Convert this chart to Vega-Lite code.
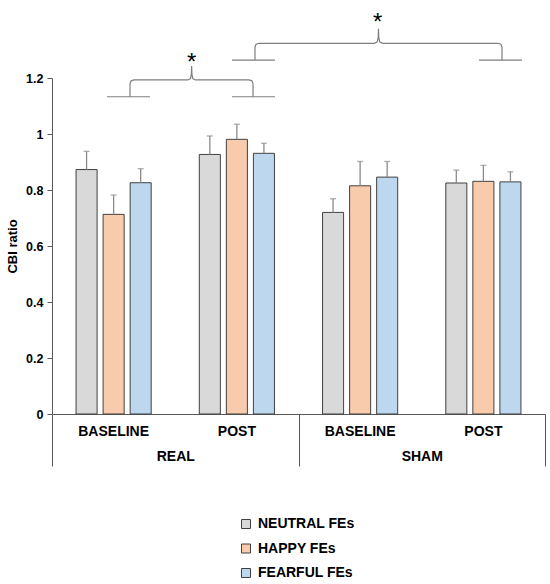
{
  "$schema": "https://vega.github.io/schema/vega-lite/v6.json",
  "width": 493,
  "height": 336,
  "autosize": {"type": "none"},
  "padding": {"left": 52, "top": 78, "right": 5, "bottom": 170},
  "config": {"font": "Liberation Sans", "view": {"stroke": null}},
  "datasets": {
    "bars": [
      {"group": "REAL", "cond": "REAL BASELINE", "emotion": "NEUTRAL FEs", "value": 0.873, "upper": 0.938},
      {"group": "REAL", "cond": "REAL BASELINE", "emotion": "HAPPY FEs", "value": 0.713, "upper": 0.782},
      {"group": "REAL", "cond": "REAL BASELINE", "emotion": "FEARFUL FEs", "value": 0.826, "upper": 0.876},
      {"group": "REAL", "cond": "REAL POST", "emotion": "NEUTRAL FEs", "value": 0.927, "upper": 0.993},
      {"group": "REAL", "cond": "REAL POST", "emotion": "HAPPY FEs", "value": 0.981, "upper": 1.035},
      {"group": "REAL", "cond": "REAL POST", "emotion": "FEARFUL FEs", "value": 0.931, "upper": 0.967},
      {"group": "SHAM", "cond": "SHAM BASELINE", "emotion": "NEUTRAL FEs", "value": 0.720, "upper": 0.769},
      {"group": "SHAM", "cond": "SHAM BASELINE", "emotion": "HAPPY FEs", "value": 0.815, "upper": 0.902},
      {"group": "SHAM", "cond": "SHAM BASELINE", "emotion": "FEARFUL FEs", "value": 0.846, "upper": 0.902},
      {"group": "SHAM", "cond": "SHAM POST", "emotion": "NEUTRAL FEs", "value": 0.825, "upper": 0.871},
      {"group": "SHAM", "cond": "SHAM POST", "emotion": "HAPPY FEs", "value": 0.831, "upper": 0.888},
      {"group": "SHAM", "cond": "SHAM POST", "emotion": "FEARFUL FEs", "value": 0.829, "upper": 0.865}
    ],
    "brackets": [
      {"seg": "a_tabL", "i": 1, "bx": 0.446, "by": 1.133},
      {"seg": "a_tabL", "i": 2, "bx": 0.795, "by": 1.133},
      {"seg": "a_tabR", "i": 1, "bx": 1.460, "by": 1.133},
      {"seg": "a_tabR", "i": 2, "bx": 1.809, "by": 1.133},
      {"seg": "a_brace", "i": 1, "bx": 0.633, "by": 1.133},
      {"seg": "a_brace", "i": 2, "bx": 0.633, "by": 1.179},
      {"seg": "a_brace", "i": 3, "bx": 0.642, "by": 1.190},
      {"seg": "a_brace", "i": 4, "bx": 0.665, "by": 1.193},
      {"seg": "a_brace", "i": 5, "bx": 1.102, "by": 1.193},
      {"seg": "a_brace", "i": 6, "bx": 1.124, "by": 1.198},
      {"seg": "a_brace", "i": 7, "bx": 1.131, "by": 1.215},
      {"seg": "a_brace", "i": 8, "bx": 1.133, "by": 1.243},
      {"seg": "a_brace", "i": 9, "bx": 1.135, "by": 1.215},
      {"seg": "a_brace", "i": 10, "bx": 1.142, "by": 1.198},
      {"seg": "a_brace", "i": 11, "bx": 1.164, "by": 1.193},
      {"seg": "a_brace", "i": 12, "bx": 1.599, "by": 1.193},
      {"seg": "a_brace", "i": 13, "bx": 1.622, "by": 1.190},
      {"seg": "a_brace", "i": 14, "bx": 1.631, "by": 1.179},
      {"seg": "a_brace", "i": 15, "bx": 1.631, "by": 1.133},
      {"seg": "b_tabL", "i": 1, "bx": 1.460, "by": 1.264},
      {"seg": "b_tabL", "i": 2, "bx": 1.809, "by": 1.264},
      {"seg": "b_tabR", "i": 1, "bx": 3.465, "by": 1.264},
      {"seg": "b_tabR", "i": 2, "bx": 3.813, "by": 1.264},
      {"seg": "b_brace", "i": 1, "bx": 1.647, "by": 1.264},
      {"seg": "b_brace", "i": 2, "bx": 1.647, "by": 1.310},
      {"seg": "b_brace", "i": 3, "bx": 1.656, "by": 1.321},
      {"seg": "b_brace", "i": 4, "bx": 1.679, "by": 1.324},
      {"seg": "b_brace", "i": 5, "bx": 2.617, "by": 1.324},
      {"seg": "b_brace", "i": 6, "bx": 2.639, "by": 1.329},
      {"seg": "b_brace", "i": 7, "bx": 2.647, "by": 1.346},
      {"seg": "b_brace", "i": 8, "bx": 2.649, "by": 1.376},
      {"seg": "b_brace", "i": 9, "bx": 2.651, "by": 1.346},
      {"seg": "b_brace", "i": 10, "bx": 2.659, "by": 1.329},
      {"seg": "b_brace", "i": 11, "bx": 2.681, "by": 1.324},
      {"seg": "b_brace", "i": 12, "bx": 3.619, "by": 1.324},
      {"seg": "b_brace", "i": 13, "bx": 3.642, "by": 1.321},
      {"seg": "b_brace", "i": 14, "bx": 3.651, "by": 1.310},
      {"seg": "b_brace", "i": 15, "bx": 3.651, "by": 1.264}
    ],
    "stars": [
      {"label": "*", "bx": 1.133, "by": 1.227},
      {"label": "*", "bx": 2.643, "by": 1.370}
    ],
    "groups": [
      {"group": "REAL"},
      {"group": "SHAM"}
    ]
  },
  "layer": [
    {
      "data": {"name": "bars"},
      "encoding": {
        "x": {
          "field": "cond", "type": "nominal",
          "sort": ["REAL BASELINE", "REAL POST", "SHAM BASELINE", "SHAM POST"],
          "scale": {"paddingInner": 0, "paddingOuter": 0},
          "axis": {
            "orient": "bottom", "title": null, "ticks": false, "labelAngle": 0,
            "labelExpr": "split(datum.label, ' ')[1]",
            "labelFontSize": 14, "labelFontWeight": "bold", "labelColor": "#000000",
            "labelPadding": 10, "domainColor": "#595959", "domainWidth": 1
          }
        },
        "xOffset": {
          "field": "emotion", "type": "nominal",
          "sort": ["NEUTRAL FEs", "HAPPY FEs", "FEARFUL FEs"],
          "scale": {"paddingInner": 0.222, "paddingOuter": 0.889}
        }
      },
      "layer": [
        {
          "mark": {"type": "bar", "stroke": "#404040", "strokeWidth": 1},
          "encoding": {
            "y": {
              "field": "value", "type": "quantitative",
              "scale": {"domain": [0, 1.2], "nice": false},
              "axis": {
                "title": "CBI ratio", "values": [0, 0.2, 0.4, 0.6, 0.8, 1, 1.2], "format": "~g",
                "grid": false, "domainColor": "#595959", "tickColor": "#595959", "tickSize": 5,
                "labelFontSize": 12.5, "labelFontWeight": "bold", "labelColor": "#000000", "labelPadding": 4,
                "titleFontSize": 13, "titleFontWeight": "bold", "titleColor": "#000000", "titlePadding": 6
              }
            },
            "color": {
              "field": "emotion", "type": "nominal",
              "scale": {
                "domain": ["NEUTRAL FEs", "HAPPY FEs", "FEARFUL FEs"],
                "range": ["#D9D9D9", "#F8CBAD", "#BDD7EE"]
              },
              "legend": {
                "orient": "none", "legendX": 187, "legendY": 439, "title": null,
                "symbolType": "square", "symbolSize": 81, "symbolStrokeColor": "#404040", "symbolStrokeWidth": 1,
                "symbolOpacity": 1,
                "labelFontSize": 14, "labelFontWeight": "bold", "labelColor": "#000000",
                "rowPadding": 10.5, "labelOffset": 5
              }
            }
          }
        },
        {
          "mark": {"type": "rule", "color": "#8C8C8C", "strokeWidth": 1.3},
          "encoding": {
            "y": {"field": "value", "type": "quantitative"},
            "y2": {"field": "upper"}
          }
        },
        {
          "mark": {"type": "tick", "color": "#8C8C8C", "size": 6, "thickness": 1.3},
          "encoding": {
            "y": {"field": "upper", "type": "quantitative"}
          }
        }
      ]
    },
    {
      "data": {"name": "groups"},
      "mark": {"type": "rule", "opacity": 0},
      "encoding": {
        "x": {
          "field": "group", "type": "nominal",
          "scale": {"paddingInner": 0, "paddingOuter": 0},
          "axis": {
            "orient": "bottom", "title": null, "domain": false, "tickBand": "extent",
            "tickSize": 52, "tickColor": "#595959", "tickWidth": 1, "labelAngle": 0,
            "labelFontSize": 14, "labelFontWeight": "bold", "labelColor": "#000000",
            "labelPadding": -17
          }
        }
      }
    },
    {
      "data": {"name": "brackets"},
      "mark": {"type": "line", "color": "#7F7F7F", "strokeWidth": 1.2},
      "encoding": {
        "x": {"field": "bx", "type": "quantitative", "scale": {"domain": [0, 4], "nice": false, "zero": false}, "axis": null},
        "y": {"field": "by", "type": "quantitative"},
        "detail": {"field": "seg"},
        "order": {"field": "i", "type": "quantitative"}
      }
    },
    {
      "data": {"name": "stars"},
      "mark": {"type": "text", "fontSize": 24, "color": "#000000", "baseline": "alphabetic", "align": "center"},
      "encoding": {
        "x": {"field": "bx", "type": "quantitative", "scale": {"domain": [0, 4], "nice": false, "zero": false}, "axis": null},
        "y": {"field": "by", "type": "quantitative"},
        "text": {"field": "label"}
      }
    }
  ],
  "resolve": {"scale": {"x": "independent"}, "axis": {"x": "independent"}}
}
